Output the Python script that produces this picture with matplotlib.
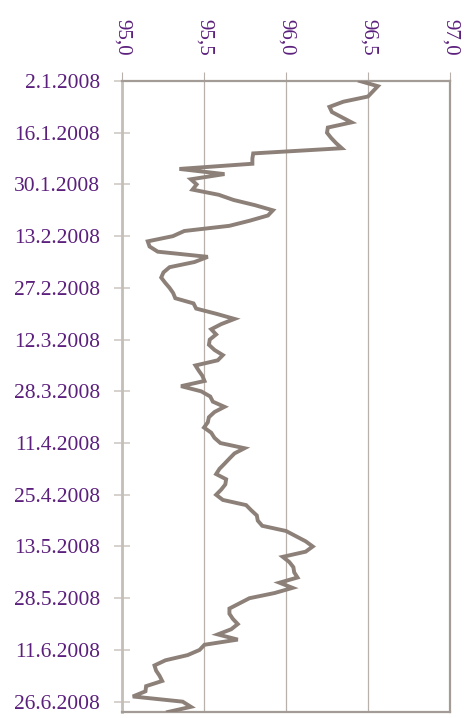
import numpy as np
import matplotlib
matplotlib.use('Agg')
import matplotlib.pyplot as plt

# daily values (trading days, top to bottom)
values = [96.45, 96.56, 96.53, 96.50, 96.35, 96.265, 96.28, 96.34, 96.40, 96.255,
          96.25, 96.275, 96.305, 96.34, 95.80, 95.795, 95.795, 95.35, 95.625, 95.42,
          95.455, 95.43, 95.59, 95.68, 95.81, 95.92, 95.89, 95.78, 95.655, 95.38,
          95.31, 95.157, 95.168, 95.218, 95.523, 95.442, 95.29, 95.253, 95.239, 95.263,
          95.29, 95.312, 95.325, 95.436, 95.452, 95.574, 95.686, 95.605, 95.544, 95.574,
          95.535, 95.53, 95.564, 95.615, 95.584, 95.448, 95.468, 95.49, 95.503, 95.36,
          95.483, 95.538, 95.554, 95.625, 95.564, 95.53, 95.523, 95.50, 95.544, 95.564,
          95.60, 95.747, 95.686, 95.655, 95.625, 95.594, 95.574, 95.635, 95.63, 95.605,
          95.574, 95.615, 95.757, 95.788, 95.822, 95.828, 95.855, 96.0, 96.06, 96.12,
          96.163, 96.12, 95.98, 96.02, 96.045, 96.05, 96.07, 95.96, 96.04, 95.93,
          95.777, 95.716, 95.655, 95.655, 95.676, 95.706, 95.666, 95.584, 95.706, 95.503,
          95.473, 95.40, 95.265, 95.198, 95.208, 95.229, 95.245, 95.147, 95.143, 95.066,
          95.37, 95.42, 95.28]

date_labels = ['2.1.2008', '16.1.2008', '30.1.2008', '13.2.2008', '27.2.2008',
               '12.3.2008', '28.3.2008', '11.4.2008', '25.4.2008', '13.5.2008',
               '28.5.2008', '11.6.2008', '26.6.2008']
x_ticks = [95.0, 95.5, 96.0, 96.5, 97.0]
x_labels = ['95,0', '95,5', '96,0', '96,5', '97,0']

purple = '#5B1F7C'
line_col = '#8C8079'
grid_col = '#B8B0AA'
spine_col = '#A39B95'

plt.rcParams['font.family'] = ['Liberation Serif', 'DejaVu Serif']

fig = plt.figure(figsize=(4.72, 7.18), dpi=100)
ax = fig.add_axes([122/472, 1-712/718, 328/472, 631/718])

idx = np.arange(len(values))
ax.plot(values, idx, color=line_col, lw=2.8, solid_joinstyle='miter', zorder=3)

ax.set_xlim(95.0, 97.0)
ax.set_ylim(len(values)-1, 0)

ax.xaxis.tick_top()
ax.set_xticks(x_ticks)
ax.set_xticklabels(x_labels, rotation=270, color=purple, fontsize=15)
ax.tick_params(axis='x', direction='out', length=6.5, color=grid_col, pad=12)

ax.set_yticks(np.arange(0, len(values), 10)[:len(date_labels)])
ax.set_yticklabels(date_labels, color=purple, fontsize=15.5)
ax.tick_params(axis='y', direction='inout', length=11.5, width=1.2, color='#CFC9C4', pad=10)

ax.grid(axis='x', color=grid_col, lw=0.9)
ax.set_axisbelow(True)

for side in ['top', 'bottom', 'right']:
    ax.spines[side].set_color(spine_col)
    ax.spines[side].set_linewidth(1.6)
ax.spines['left'].set_color('#C4BEB9')
ax.spines['left'].set_linewidth(2)

fig.savefig('out.png', dpi=100)
